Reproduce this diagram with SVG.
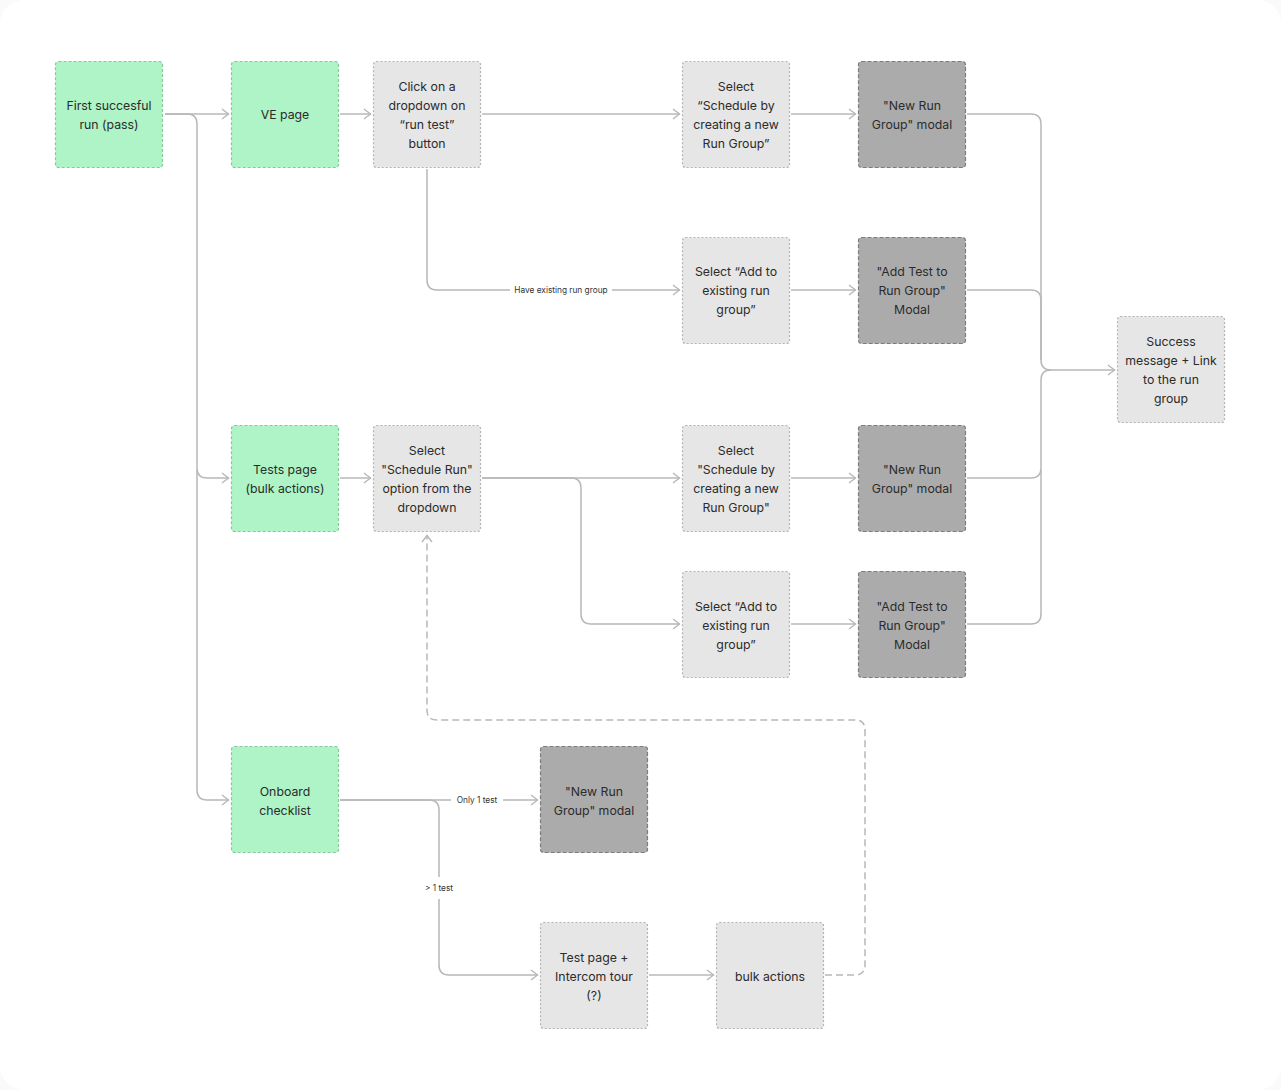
<svg xmlns="http://www.w3.org/2000/svg" width="1281" height="1090" viewBox="0 0 1281 1090">
<defs>
<style>
.g rect{fill:#aef4c6;stroke:#86c99b;stroke-width:1.2;stroke-dasharray:3 2}
.l rect{fill:#e6e6e6;stroke:#b3b3b3;stroke-width:1.2;stroke-dasharray:2 2}
.d rect{fill:#ababab;stroke:#7c7c7c;stroke-width:1.2;stroke-dasharray:4 2}
text{font-family:Inter,"Noto Sans","Liberation Sans",sans-serif;font-size:12.3px;fill:#2b2b2b;text-anchor:middle}
.lbl{font-size:8.3px;fill:#333}
.c path{fill:none;stroke:#b8b8b8;stroke-width:1.5}
.c .ds{stroke-dasharray:7 4}
</style>
<marker id="a" viewBox="0 0 10 12" refX="9" refY="6" markerWidth="10" markerHeight="12" markerUnits="userSpaceOnUse" orient="auto">
<path d="M2,1 L8.5,6 L2,11" fill="none" stroke="#b8b8b8" stroke-width="1.4"/>
</marker>
</defs>
<rect width="1281" height="1090" fill="#fafafa"/>
<rect width="1281" height="1090" rx="24" fill="#ffffff"/>
<g class="c" id="connectors">
<path d="M165,114 H229" marker-end="url(#a)"/>
<path d="M165,114 H187 Q197,114 197,124 V468 Q197,478 207,478 H229" marker-end="url(#a)"/>
<path d="M197,470 V790 Q197,800 207,800 H229" marker-end="url(#a)"/>
<path d="M340,114 H371" marker-end="url(#a)"/>
<path d="M482,114 H680" marker-end="url(#a)"/>
<path d="M427,169 V280 Q427,290 437,290 H510 M612,290 H680" marker-end="url(#a)"/>
<path d="M791,114 H856" marker-end="url(#a)"/>
<path d="M791,290 H856" marker-end="url(#a)"/>
<path d="M967,114 H1031 Q1041,114 1041,124 V360 Q1041,370 1051,370 H1115" marker-end="url(#a)"/>
<path d="M967,290 H1031 Q1041,290 1041,300 V360"/>
<path d="M967,478 H1031 Q1041,478 1041,468 V380 Q1041,370 1051,370"/>
<path d="M967,624 H1031 Q1041,624 1041,614 V470"/>
<path d="M340,478 H371" marker-end="url(#a)"/>
<path d="M482,478 H680" marker-end="url(#a)"/>
<path d="M482,478 H571 Q581,478 581,488 V614 Q581,624 591,624 H680" marker-end="url(#a)"/>
<path d="M791,478 H856" marker-end="url(#a)"/>
<path d="M791,624 H856" marker-end="url(#a)"/>
<path d="M340,800 H451 M503,800 H538" marker-end="url(#a)"/>
<path d="M340,800 H429 Q439,800 439,810 V877 M439,899 V965 Q439,975 449,975 H538" marker-end="url(#a)"/>
<path d="M649,975 H714" marker-end="url(#a)"/>
<path class="ds" d="M825,975 H855 Q865,975 865,965 V730 Q865,720 855,720 H437 Q427,720 427,710 V535" marker-end="url(#a)"/>
<text class="lbl" x="561" y="293">Have existing run group</text>
<text class="lbl" x="477" y="803">Only 1 test</text>
<text class="lbl" x="439" y="891">&gt; 1 test</text>
</g>
<g id="n1" class="g"><rect x="55.5" y="61.5" width="107" height="106" rx="3"/><text x="109" y="109.5">First succesful</text><text x="109" y="128.5">run (pass)</text></g>
<g id="n2" class="g"><rect x="231.5" y="61.5" width="107" height="106" rx="3"/><text x="285" y="119">VE page</text></g>
<g id="n3" class="l"><rect x="373.5" y="61.5" width="107" height="106" rx="3"/><text x="427" y="90.5">Click on a</text><text x="427" y="109.5">dropdown on</text><text x="427" y="128.5">“run test”</text><text x="427" y="147.5">button</text></g>
<g id="n4" class="l"><rect x="682.5" y="61.5" width="107" height="106" rx="3"/><text x="736" y="90.5">Select</text><text x="736" y="109.5">“Schedule by</text><text x="736" y="128.5">creating a new</text><text x="736" y="147.5">Run Group”</text></g>
<g id="n5" class="d"><rect x="858.5" y="61.5" width="107" height="106" rx="3"/><text x="912" y="109.5">"New Run</text><text x="912" y="128.5">Group" modal</text></g>
<g id="n6" class="l"><rect x="682.5" y="237.5" width="107" height="106" rx="3"/><text x="736" y="275.5">Select “Add to</text><text x="736" y="294.5">existing run</text><text x="736" y="313.5">group”</text></g>
<g id="n7" class="d"><rect x="858.5" y="237.5" width="107" height="106" rx="3"/><text x="912" y="275.5">"Add Test to</text><text x="912" y="294.5">Run Group"</text><text x="912" y="313.5">Modal</text></g>
<g id="n8" class="l"><rect x="1117.5" y="316.5" width="107" height="106" rx="3"/><text x="1171" y="345.5">Success</text><text x="1171" y="364.5">message + Link</text><text x="1171" y="383.5">to the run</text><text x="1171" y="402.5">group</text></g>
<g id="n9" class="g"><rect x="231.5" y="425.5" width="107" height="106" rx="3"/><text x="285" y="473.5">Tests page</text><text x="285" y="492.5">(bulk actions)</text></g>
<g id="n10" class="l"><rect x="373.5" y="425.5" width="107" height="106" rx="3"/><text x="427" y="454.5">Select</text><text x="427" y="473.5">"Schedule Run"</text><text x="427" y="492.5">option from the</text><text x="427" y="511.5">dropdown</text></g>
<g id="n11" class="l"><rect x="682.5" y="425.5" width="107" height="106" rx="3"/><text x="736" y="454.5">Select</text><text x="736" y="473.5">"Schedule by</text><text x="736" y="492.5">creating a new</text><text x="736" y="511.5">Run Group"</text></g>
<g id="n12" class="d"><rect x="858.5" y="425.5" width="107" height="106" rx="3"/><text x="912" y="473.5">"New Run</text><text x="912" y="492.5">Group" modal</text></g>
<g id="n13" class="l"><rect x="682.5" y="571.5" width="107" height="106" rx="3"/><text x="736" y="610.5">Select “Add to</text><text x="736" y="629.5">existing run</text><text x="736" y="648.5">group”</text></g>
<g id="n14" class="d"><rect x="858.5" y="571.5" width="107" height="106" rx="3"/><text x="912" y="610.5">"Add Test to</text><text x="912" y="629.5">Run Group"</text><text x="912" y="648.5">Modal</text></g>
<g id="n15" class="g"><rect x="231.5" y="746.5" width="107" height="106" rx="3"/><text x="285" y="795.5">Onboard</text><text x="285" y="814.5">checklist</text></g>
<g id="n16" class="d"><rect x="540.5" y="746.5" width="107" height="106" rx="3"/><text x="594" y="795.5">"New Run</text><text x="594" y="814.5">Group" modal</text></g>
<g id="n17" class="l"><rect x="540.5" y="922.5" width="107" height="106" rx="3"/><text x="594" y="961.5">Test page +</text><text x="594" y="980.5">Intercom tour</text><text x="594" y="999.5">(?)</text></g>
<g id="n18" class="l"><rect x="716.5" y="922.5" width="107" height="106" rx="3"/><text x="770" y="980.5">bulk actions</text></g>
</svg>
